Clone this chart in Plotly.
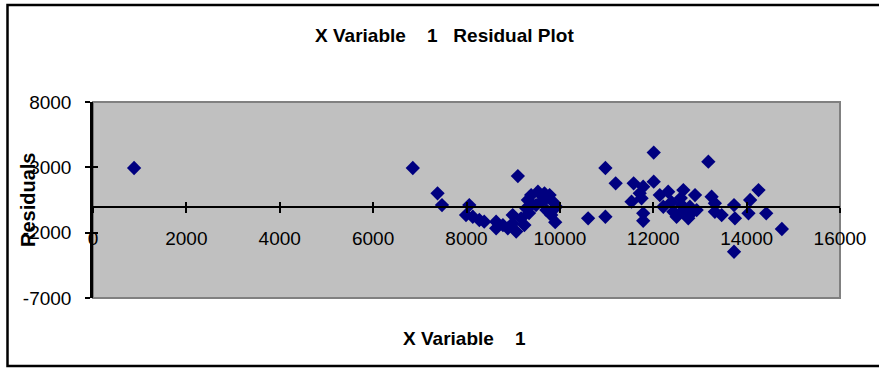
import plotly.graph_objects as go

# Residuals against X Variable 1
x_values = [
    880, 6850, 7380, 7475, 8060, 7990, 8135, 8275, 8380, 8635,
    8635, 8780, 8885, 8990, 8990, 9100, 9065, 9240, 9170, 9280,
    9315, 9385, 9530, 9670, 9780, 9600, 9850, 9920, 9710, 9815,
    9900, 9385, 9490, 9710, 9340, 10605, 10975, 10975, 11195, 11580,
    11535, 11710, 11785, 11750, 11785, 11785, 12010, 12010, 12140, 12320,
    12215, 12430, 12500, 12645, 12610, 12645, 12785, 12750, 12895, 12930,
    13180, 13250, 13320, 13320, 13465, 13730, 13750, 13730, 14040, 14075,
    14255, 14420, 14755, 12390, 12590, 12820,
]
residuals = [
    2950, 2950, 1010, 115, 115, -650, -780, -1030, -1160, -1160,
    -1670, -1420, -1670, -650, -1290, 2330, -1920, -1420, -900, -140,
    500, 880, 1130, 1010, 880, 370, 370, -15, -270, -650,
    -1200, 115, 115, 650, -500, -900, -780, 2950, 1775, 1775,
    370, 1010, 1515, 630, -520, -1090, 4130, 1900, 880, 1130,
    -15, -400, -780, 1260, 115, -270, -15, -900, 880, -270,
    3430, 750, 245, -400, -650, 115, -900, -3460, -520, 500,
    1260, -520, -1720, 340, 650, -500,
]

x_range = [0, 16000]
y_range = [-7000, 8000]
x_ticks = [0, 2000, 4000, 6000, 8000, 10000, 12000, 14000, 16000]
y_ticks = [-7000, -2000, 3000, 8000]

W, H = 879, 368
L, R, T, B = 93, 39, 102, 70
plot_w, plot_h = W - L - R, H - T - B


def px_x(p):
    return (p - L) / plot_w


def px_y(p):
    return (H - B - p) / plot_h


# the category axis sits on the zero residual line
zero_pos = (0 - y_range[0]) / (y_range[1] - y_range[0])

font_family = "Liberation Sans, Arial, sans-serif"

fig = go.Figure()
fig.add_trace(go.Scatter(
    x=x_values, y=residuals, mode="markers",
    marker=dict(symbol="diamond", size=11, color="#000080",
                line=dict(width=0)),
    showlegend=False, hoverinfo="x+y",
))

fig.update_layout(
    width=W, height=H,
    margin=dict(l=L, r=R, t=T, b=B, pad=0),
    paper_bgcolor="white",
    plot_bgcolor="#C0C0C0",
    font=dict(family=font_family, size=19, color="black"),
    showlegend=False,
    xaxis=dict(
        range=x_range, tickvals=x_ticks, ticktext=[str(v) for v in x_ticks],
        showgrid=False, zeroline=False,
        showline=True, linecolor="black", linewidth=2,
        ticks="outside", ticklen=5, tickwidth=1.5, tickcolor="black",
        anchor="free", position=zero_pos,
        ticklabelstandoff=10,
    ),
    xaxis2=dict(
        range=x_range, tickvals=x_ticks, overlaying="x",
        showgrid=False, zeroline=False, showline=False,
        ticks="inside", ticklen=5, tickwidth=1.5, tickcolor="black",
        showticklabels=False, anchor="free", position=zero_pos,
    ),
    yaxis=dict(
        range=y_range, tickvals=y_ticks, ticktext=[str(v) for v in y_ticks],
        showgrid=False, zeroline=False,
        showline=True, linecolor="black", linewidth=2.5,
        ticks="outside", ticklen=5, tickwidth=1.5, tickcolor="black",
        ticklabelstandoff=10,
    ),
    yaxis2=dict(
        range=y_range, tickvals=y_ticks, overlaying="y", side="left",
        showgrid=False, zeroline=False, showline=False,
        ticks="inside", ticklen=5, tickwidth=1.5, tickcolor="black",
        showticklabels=False,
    ),
    shapes=[
        # plot area frame
        dict(type="rect", xref="paper", yref="paper", x0=0, x1=1, y0=0, y1=1,
             line=dict(color="#808080", width=2), layer="below"),
        # chart area frame
        dict(type="rect", xref="paper", yref="paper",
             x0=px_x(7.5), x1=px_x(W + 4), y0=px_y(366), y1=px_y(5),
             line=dict(color="black", width=2.5)),
    ],
    annotations=[
        dict(text="<b>X Variable\u00a0\u00a0\u00a0 1\u00a0\u00a0 Residual Plot</b>",
             xref="paper", yref="paper", x=px_x(444), y=px_y(35),
             xanchor="center", yanchor="middle", showarrow=False,
             font=dict(size=19)),
        dict(text="<b>X Variable\u00a0\u00a0\u00a0 1</b>",
             xref="paper", yref="paper", x=px_x(464), y=px_y(338),
             xanchor="center", yanchor="middle", showarrow=False,
             font=dict(size=19)),
        dict(text="<b>Residuals</b>", textangle=-90,
             xref="paper", yref="paper", x=px_x(28), y=px_y(200),
             xanchor="center", yanchor="middle", showarrow=False,
             font=dict(size=20)),
    ],
)

# invisible companions so the overlaid tick axes are drawn
fig.add_trace(go.Scatter(x=x_range, y=y_range, xaxis="x2", yaxis="y2",
                         mode="markers", marker=dict(opacity=0),
                         showlegend=False, hoverinfo="skip"))

fig.write_html("out.html")
